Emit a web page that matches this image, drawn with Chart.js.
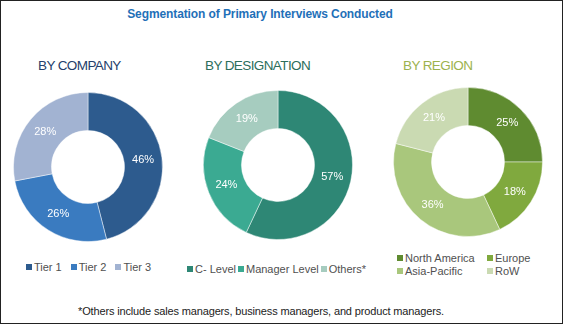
<!DOCTYPE html>
<html>
<head>
<meta charset="utf-8">
<script src="https://cdn.jsdelivr.net/npm/chart.js@4/dist/chart.umd.min.js"></script>
<style>
  body { margin: 0; background: #fff; font-family: "Liberation Sans", Arial, sans-serif; }
  #frame { position: absolute; left: 0; top: 0; width: 563px; height: 324px; box-sizing: border-box; border: 1px solid #222; }
  .abs { position: absolute; }
  .title { left: 0; width: 520px; top: 7px; text-align: center; font-size: 12px; font-weight: bold; color: #1F70B8; letter-spacing: -0.1px; }
  .sub { font-size: 13.5px; letter-spacing: -0.6px; white-space: nowrap; }
  .legend { font-size: 11px; color: #505050; display: flex; white-space: nowrap; }
  .legend span.box { display: inline-block; width: 6px; height: 6px; margin-right: 2px; vertical-align: 1px; }
  .note { left: 0; width: 522px; top: 305px; text-align: center; font-size: 11px; color: #222; letter-spacing: -0.15px; }
</style>
</head>
<body>
<div id="frame"></div>
<div class="abs title">Segmentation of Primary Interviews Conducted</div>
<div class="abs sub" style="left:38px;top:58px;color:#24406B">BY COMPANY</div>
<div class="abs sub" style="left:205px;top:58px;color:#2C6E5B">BY DESIGNATION</div>
<div class="abs sub" style="left:403px;top:58px;color:#9CB24E">BY REGION</div>

<canvas id="c1" class="abs" style="left:13px;top:92px"></canvas>
<canvas id="c2" class="abs" style="left:203px;top:90px"></canvas>
<canvas id="c3" class="abs" style="left:393px;top:87px"></canvas>

<div id="lg1" class="abs legend" style="left:26px;top:261px;gap:9px"></div>
<div id="lg2" class="abs legend" style="left:187px;top:263px;gap:2px"></div>
<div id="lg3" class="abs legend" style="left:397px;top:252px;display:grid;grid-template-columns:90px 70px;row-gap:1px"></div>

<div class="abs note">*Others include sales managers, business managers, and product managers.</div>

<script>
// data
const companyLabels = ['Tier 1', 'Tier 2', 'Tier 3'];
const companyValues = [46, 26, 28];
const companyColors = ['#2D5B8E', '#3A7BC0', '#A2B3D2'];

const designationLabels = ['C- Level', 'Manager Level', 'Others*'];
const designationValues = [57, 24, 19];
const designationColors = ['#2E8775', '#3BAA92', '#A6CCBF'];

const regionLabels = ['North America', 'Europe', 'Asia-Pacific', 'RoW'];
const regionValues = [25, 18, 36, 21];
const regionColors = ['#5F8B30', '#80A93E', '#A9C77C', '#CADAB2'];

// white percentage labels in the middle of each arc
const pctLabels = {
    id: 'pctLabels',
    afterDatasetsDraw(chart) {
        const ctx = chart.ctx;
        const ds = chart.data.datasets[0];
        ctx.save();
        ctx.fillStyle = '#ffffff';
        ctx.font = '11px "Liberation Sans", Arial, sans-serif';
        ctx.textAlign = 'center';
        ctx.textBaseline = 'middle';
        chart.getDatasetMeta(0).data.forEach((arc, i) => {
            const p = arc.tooltipPosition();
            ctx.fillText(ds.data[i] + '%', p.x, p.y);
        });
        ctx.restore();
    }
};

function makeDonut(id, labels, values, colors) {
    const canvas = document.getElementById(id);
    canvas.width = 150;
    canvas.height = 150;
    canvas.style.width = '150px';
    canvas.style.height = '150px';
    new Chart(canvas.getContext('2d'), {
        type: 'doughnut',
        data: {
            labels: labels,
            datasets: [{
                data: values,
                backgroundColor: colors,
                borderColor: 'rgba(255,255,255,0.45)',
                borderWidth: 1
            }]
        },
        options: {
            responsive: false,
            animation: false,
            cutout: '49%',
            plugins: { legend: { display: false }, tooltip: { enabled: false } }
        },
        plugins: [pctLabels]
    });
}

function makeLegend(id, labels, colors) {
    const el = document.getElementById(id);
    labels.forEach((l, i) => {
        const item = document.createElement('div');
        item.innerHTML = '<span class="box" style="background:' + colors[i] + '"></span>' + l;
        el.appendChild(item);
    });
}

makeDonut('c1', companyLabels, companyValues, companyColors);
makeDonut('c2', designationLabels, designationValues, designationColors);
makeDonut('c3', regionLabels, regionValues, regionColors);
makeLegend('lg1', companyLabels, companyColors);
makeLegend('lg2', designationLabels, designationColors);
makeLegend('lg3', regionLabels, regionColors);
</script>
</body>
</html>
